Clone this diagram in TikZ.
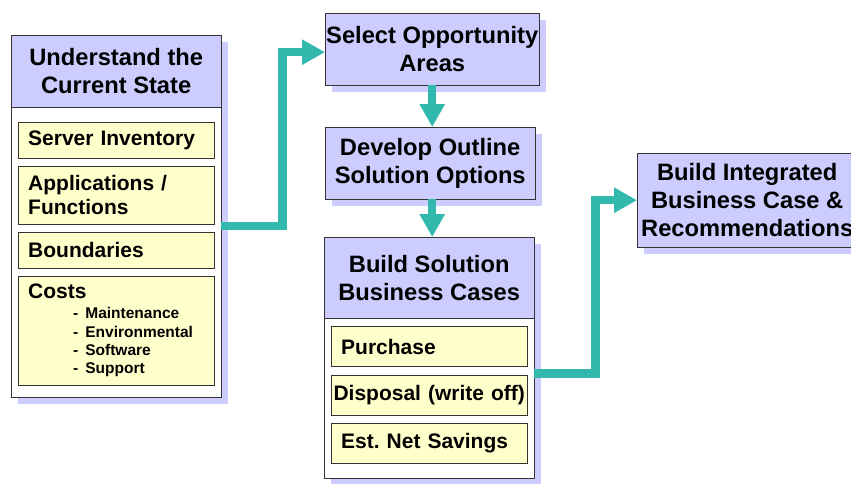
\documentclass[tikz,border=0pt]{standalone}
\usepackage{fontspec}
\setmainfont{Liberation Sans}
\usetikzlibrary{positioning,shadows,arrows.meta}

\definecolor{lila}{HTML}{CCCCFF}
\definecolor{crema}{HTML}{FFFFCC}
\definecolor{turquesa}{HTML}{33B8AE}

\begin{document}
\begin{tikzpicture}[
        x=1pt, y=-1pt,
        sombra/.style={drop shadow={shadow xshift=7pt, shadow yshift=-7pt, fill=lila, opacity=1}},
        caja/.style={rectangle, draw=black!80, fill=white, sombra, anchor=north west, minimum width=210pt},
        titulo/.style={rectangle, draw=black!80, fill=lila, align=center, inner xsep=1pt,
            font=\fontsize{23.7}{28}\selectfont\bfseries},
        paso/.style={titulo, sombra, anchor=north west},
        dato/.style={rectangle, draw=black!80, fill=crema, text width=176pt, inner xsep=10pt,
            align=left, minimum height=36pt, font=\fontsize{21}{24}\selectfont\bfseries\frenchspacing},
        flecha/.style={turquesa, line width=8.5pt, line join=miter, -{Triangle[length=23pt, width=24pt]}}
    ]
        \useasboundingbox (0,0) rectangle (851,483);
        \clip (0,0) rectangle (851,483);

        % Estado actual
        \node[caja, minimum height=362pt] (cur) at (11,35) {};
        \node[titulo, minimum width=210pt, minimum height=72pt, anchor=north] (curhd) at (cur.north) {Understand the\\Current State};
        \node[dato, below=15pt of curhd] (sinv) {Server Inventory};
        \node[dato, below=7pt of sinv, minimum height=58pt] (apps) {Applications /\\Functions};
        \node[dato, below=8pt of apps] (bnd) {Boundaries};
        \node[dato, below=7pt of bnd, minimum height=109pt] (costs) {Costs\par\vspace{2pt}
            {\fontsize{15.5}{18.3}\selectfont\leftskip=45pt - Maintenance\\- Environmental\\- Software\\- Support\par}};

        % Pasos centrales
        \node[paso, minimum width=214pt, minimum height=72pt] (sel) at (325,13) {Select Opportunity\\Areas};
        \node[paso, minimum width=210pt, minimum height=72pt] (dev) at (325,127) {Develop Outline\\Solution Options};

        \node[caja, minimum height=241pt] (bsol) at (324,237) {};
        \node[titulo, minimum width=210pt, minimum height=81pt, anchor=north] (bsolhd) at (bsol.north) {Build Solution\\Business Cases};
        \node[dato, below=8pt of bsolhd, minimum height=40pt] (pur) {Purchase};
        \node[dato, below=8pt of pur, minimum height=40pt, text width=192pt, inner xsep=2pt, align=center] (disp) {Disposal (write off)};
        \node[dato, below=8pt of disp, minimum height=40pt] (est) {Est. Net Savings};

        % Resultado final
        \node[paso, minimum width=220pt, minimum height=94pt] (integ) at (637,153) {Build Integrated\\Business Case \&\\Recommendations};

        % Flechas
        \draw[flecha] ([yshift=-10pt]cur.east) -- ++(61,0) |- ([yshift=-3pt]sel.west);
        \draw[flecha] (sel.south) -- (sel.south |- dev.north);
        \draw[flecha] (sel.south |- dev.south) -- (sel.south |- bsol.north);
        \draw[flecha] ([yshift=-16pt]bsol.east) -- ++(61,0) |- (integ.west);
    \end{tikzpicture}
\end{document}
